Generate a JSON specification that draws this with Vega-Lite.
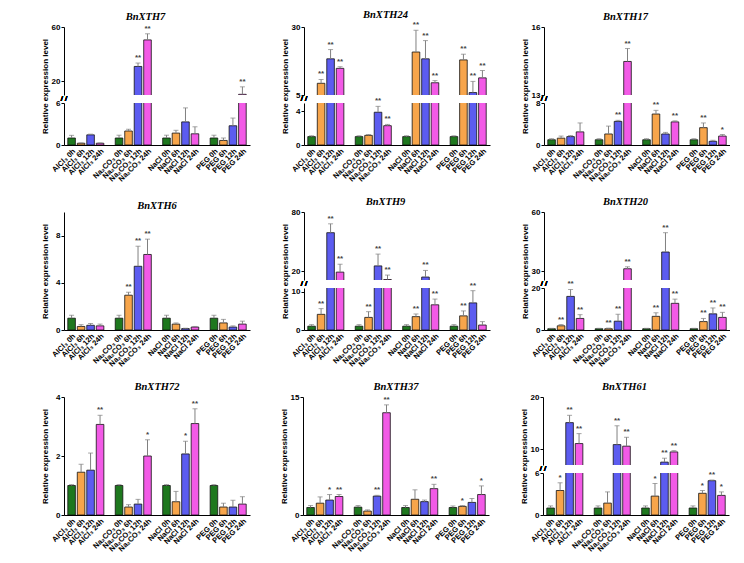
{
"$schema": "https://vega.github.io/schema/vega-lite/v6.json",
"padding": {"left": 40, "top": 9, "right": 0, "bottom": 0},
"background": "white",
"data": {"values": [
{"gene":"BnXTH7","label":"AlCl₃ 0h","time":"0h","value":1.0,"upper":1.38,"sig":""},
{"gene":"BnXTH7","label":"AlCl₃ 6h","time":"6h","value":0.25,"upper":0.3,"sig":""},
{"gene":"BnXTH7","label":"AlCl₃ 12h","time":"12h","value":1.45,"upper":1.55,"sig":""},
{"gene":"BnXTH7","label":"AlCl₃ 24h","time":"24h","value":0.25,"upper":0.3,"sig":""},
{"gene":"BnXTH7","label":"Na₂CO₃ 0h","time":"0h","value":1.0,"upper":1.4,"sig":""},
{"gene":"BnXTH7","label":"Na₂CO₃ 6h","time":"6h","value":2.0,"upper":2.25,"sig":""},
{"gene":"BnXTH7","label":"Na₂CO₃ 12h","time":"12h","value":31,"upper":33.5,"sig":"**"},
{"gene":"BnXTH7","label":"Na₂CO₃ 24h","time":"24h","value":50.5,"upper":55,"sig":"**"},
{"gene":"BnXTH7","label":"NaCl 0h","time":"0h","value":1.0,"upper":1.4,"sig":""},
{"gene":"BnXTH7","label":"NaCl 6h","time":"6h","value":1.7,"upper":2.1,"sig":""},
{"gene":"BnXTH7","label":"NaCl 12h","time":"12h","value":3.3,"upper":5.3,"sig":""},
{"gene":"BnXTH7","label":"NaCl 24h","time":"24h","value":1.6,"upper":2.6,"sig":""},
{"gene":"BnXTH7","label":"PEG 0h","time":"0h","value":1.0,"upper":1.4,"sig":""},
{"gene":"BnXTH7","label":"PEG 6h","time":"6h","value":0.65,"upper":1.0,"sig":""},
{"gene":"BnXTH7","label":"PEG 12h","time":"12h","value":2.75,"upper":3.85,"sig":""},
{"gene":"BnXTH7","label":"PEG 24h","time":"24h","value":10.5,"upper":16,"sig":"**"},

{"gene":"BnXTH24","label":"AlCl₃ 0h","time":"0h","value":1.0,"upper":1.1,"sig":""},
{"gene":"BnXTH24","label":"AlCl₃ 6h","time":"6h","value":9.3,"upper":10.7,"sig":"**"},
{"gene":"BnXTH24","label":"AlCl₃ 12h","time":"12h","value":18.3,"upper":21.7,"sig":"**"},
{"gene":"BnXTH24","label":"AlCl₃ 24h","time":"24h","value":14.8,"upper":15.4,"sig":"**"},
{"gene":"BnXTH24","label":"Na₂CO₃ 0h","time":"0h","value":1.0,"upper":1.1,"sig":""},
{"gene":"BnXTH24","label":"Na₂CO₃ 6h","time":"6h","value":1.15,"upper":1.25,"sig":""},
{"gene":"BnXTH24","label":"Na₂CO₃ 12h","time":"12h","value":3.9,"upper":4.6,"sig":"**"},
{"gene":"BnXTH24","label":"Na₂CO₃ 24h","time":"24h","value":2.3,"upper":2.45,"sig":"**"},
{"gene":"BnXTH24","label":"NaCl 0h","time":"0h","value":1.0,"upper":1.1,"sig":""},
{"gene":"BnXTH24","label":"NaCl 6h","time":"6h","value":20.8,"upper":28.8,"sig":"**"},
{"gene":"BnXTH24","label":"NaCl 12h","time":"12h","value":18.3,"upper":25,"sig":"**"},
{"gene":"BnXTH24","label":"NaCl 24h","time":"24h","value":9.5,"upper":10.3,"sig":"**"},
{"gene":"BnXTH24","label":"PEG 0h","time":"0h","value":1.0,"upper":1.1,"sig":""},
{"gene":"BnXTH24","label":"PEG 6h","time":"6h","value":17.9,"upper":20,"sig":"**"},
{"gene":"BnXTH24","label":"PEG 12h","time":"12h","value":5.9,"upper":10,"sig":"**"},
{"gene":"BnXTH24","label":"PEG 24h","time":"24h","value":11.3,"upper":14,"sig":"**"},

{"gene":"BnXTH17","label":"AlCl₃ 0h","time":"0h","value":1.0,"upper":1.2,"sig":""},
{"gene":"BnXTH17","label":"AlCl₃ 6h","time":"6h","value":1.3,"upper":1.7,"sig":""},
{"gene":"BnXTH17","label":"AlCl₃ 12h","time":"12h","value":1.6,"upper":1.8,"sig":""},
{"gene":"BnXTH17","label":"AlCl₃ 24h","time":"24h","value":2.5,"upper":4.2,"sig":""},
{"gene":"BnXTH17","label":"Na₂CO₃ 0h","time":"0h","value":1.0,"upper":1.2,"sig":""},
{"gene":"BnXTH17","label":"Na₂CO₃ 6h","time":"6h","value":2.1,"upper":3.6,"sig":""},
{"gene":"BnXTH17","label":"Na₂CO₃ 12h","time":"12h","value":4.5,"upper":4.7,"sig":"**"},
{"gene":"BnXTH17","label":"Na₂CO₃ 24h","time":"24h","value":14.48,"upper":15.05,"sig":"**"},
{"gene":"BnXTH17","label":"NaCl 0h","time":"0h","value":1.0,"upper":1.2,"sig":""},
{"gene":"BnXTH17","label":"NaCl 6h","time":"6h","value":5.9,"upper":6.6,"sig":"**"},
{"gene":"BnXTH17","label":"NaCl 12h","time":"12h","value":2.1,"upper":2.4,"sig":""},
{"gene":"BnXTH17","label":"NaCl 24h","time":"24h","value":4.4,"upper":4.6,"sig":"**"},
{"gene":"BnXTH17","label":"PEG 0h","time":"0h","value":1.0,"upper":1.2,"sig":""},
{"gene":"BnXTH17","label":"PEG 6h","time":"6h","value":3.3,"upper":4.2,"sig":"**"},
{"gene":"BnXTH17","label":"PEG 12h","time":"12h","value":0.7,"upper":0.9,"sig":""},
{"gene":"BnXTH17","label":"PEG 24h","time":"24h","value":1.7,"upper":2.0,"sig":"*"},

{"gene":"BnXTH6","label":"AlCl₃ 0h","time":"0h","value":1.0,"upper":1.25,"sig":""},
{"gene":"BnXTH6","label":"AlCl₃ 6h","time":"6h","value":0.3,"upper":0.45,"sig":""},
{"gene":"BnXTH6","label":"AlCl₃ 12h","time":"12h","value":0.4,"upper":0.55,"sig":""},
{"gene":"BnXTH6","label":"AlCl₃ 24h","time":"24h","value":0.35,"upper":0.5,"sig":""},
{"gene":"BnXTH6","label":"Na₂CO₃ 0h","time":"0h","value":1.0,"upper":1.25,"sig":""},
{"gene":"BnXTH6","label":"Na₂CO₃ 6h","time":"6h","value":2.95,"upper":3.2,"sig":"**"},
{"gene":"BnXTH6","label":"Na₂CO₃ 12h","time":"12h","value":5.4,"upper":7.1,"sig":"**"},
{"gene":"BnXTH6","label":"Na₂CO₃ 24h","time":"24h","value":6.4,"upper":7.7,"sig":"**"},
{"gene":"BnXTH6","label":"NaCl 0h","time":"0h","value":1.0,"upper":1.25,"sig":""},
{"gene":"BnXTH6","label":"NaCl 6h","time":"6h","value":0.5,"upper":0.6,"sig":""},
{"gene":"BnXTH6","label":"NaCl 12h","time":"12h","value":0.12,"upper":0.15,"sig":""},
{"gene":"BnXTH6","label":"NaCl 24h","time":"24h","value":0.25,"upper":0.3,"sig":""},
{"gene":"BnXTH6","label":"PEG 0h","time":"0h","value":1.0,"upper":1.25,"sig":""},
{"gene":"BnXTH6","label":"PEG 6h","time":"6h","value":0.6,"upper":0.9,"sig":""},
{"gene":"BnXTH6","label":"PEG 12h","time":"12h","value":0.25,"upper":0.35,"sig":""},
{"gene":"BnXTH6","label":"PEG 24h","time":"24h","value":0.5,"upper":0.75,"sig":""},

{"gene":"BnXTH9","label":"AlCl₃ 0h","time":"0h","value":1.0,"upper":1.4,"sig":""},
{"gene":"BnXTH9","label":"AlCl₃ 6h","time":"6h","value":4.1,"upper":5.6,"sig":"**"},
{"gene":"BnXTH9","label":"AlCl₃ 12h","time":"12h","value":59,"upper":68,"sig":"**"},
{"gene":"BnXTH9","label":"AlCl₃ 24h","time":"24h","value":19,"upper":27,"sig":"**"},
{"gene":"BnXTH9","label":"Na₂CO₃ 0h","time":"0h","value":1.0,"upper":1.4,"sig":""},
{"gene":"BnXTH9","label":"Na₂CO₃ 6h","time":"6h","value":3.3,"upper":4.8,"sig":"**"},
{"gene":"BnXTH9","label":"Na₂CO₃ 12h","time":"12h","value":25.3,"upper":37.3,"sig":"**"},
{"gene":"BnXTH9","label":"Na₂CO₃ 24h","time":"24h","value":11.5,"upper":16,"sig":"**"},
{"gene":"BnXTH9","label":"NaCl 0h","time":"0h","value":1.0,"upper":1.4,"sig":""},
{"gene":"BnXTH9","label":"NaCl 6h","time":"6h","value":3.5,"upper":4.2,"sig":"**"},
{"gene":"BnXTH9","label":"NaCl 12h","time":"12h","value":14,"upper":20.7,"sig":"**"},
{"gene":"BnXTH9","label":"NaCl 24h","time":"24h","value":6.6,"upper":8.1,"sig":"**"},
{"gene":"BnXTH9","label":"PEG 0h","time":"0h","value":1.0,"upper":1.4,"sig":""},
{"gene":"BnXTH9","label":"PEG 6h","time":"6h","value":3.7,"upper":5.0,"sig":"**"},
{"gene":"BnXTH9","label":"PEG 12h","time":"12h","value":7.1,"upper":10.3,"sig":"**"},
{"gene":"BnXTH9","label":"PEG 24h","time":"24h","value":1.3,"upper":2.2,"sig":""},

{"gene":"BnXTH20","label":"AlCl₃ 0h","time":"0h","value":0.6,"upper":0.8,"sig":""},
{"gene":"BnXTH20","label":"AlCl₃ 6h","time":"6h","value":2.0,"upper":2.6,"sig":"**"},
{"gene":"BnXTH20","label":"AlCl₃ 12h","time":"12h","value":16,"upper":19.3,"sig":"**"},
{"gene":"BnXTH20","label":"AlCl₃ 24h","time":"24h","value":5.5,"upper":7.3,"sig":"**"},
{"gene":"BnXTH20","label":"Na₂CO₃ 0h","time":"0h","value":0.6,"upper":0.8,"sig":""},
{"gene":"BnXTH20","label":"Na₂CO₃ 6h","time":"6h","value":0.6,"upper":0.9,"sig":"**"},
{"gene":"BnXTH20","label":"Na₂CO₃ 12h","time":"12h","value":4.2,"upper":7.5,"sig":"**"},
{"gene":"BnXTH20","label":"Na₂CO₃ 24h","time":"24h","value":31.2,"upper":32.2,"sig":"**"},
{"gene":"BnXTH20","label":"NaCl 0h","time":"0h","value":0.6,"upper":0.8,"sig":""},
{"gene":"BnXTH20","label":"NaCl 6h","time":"6h","value":6.5,"upper":8.2,"sig":"**"},
{"gene":"BnXTH20","label":"NaCl 12h","time":"12h","value":39.7,"upper":49.5,"sig":"**"},
{"gene":"BnXTH20","label":"NaCl 24h","time":"24h","value":12.7,"upper":14.7,"sig":"**"},
{"gene":"BnXTH20","label":"PEG 0h","time":"0h","value":0.6,"upper":0.8,"sig":""},
{"gene":"BnXTH20","label":"PEG 6h","time":"6h","value":4.0,"upper":5.5,"sig":"**"},
{"gene":"BnXTH20","label":"PEG 12h","time":"12h","value":7.7,"upper":10.5,"sig":"**"},
{"gene":"BnXTH20","label":"PEG 24h","time":"24h","value":6.0,"upper":8.4,"sig":"**"},

{"gene":"BnXTH72","label":"AlCl₃ 0h","time":"0h","value":1.0,"upper":1.03,"sig":""},
{"gene":"BnXTH72","label":"AlCl₃ 6h","time":"6h","value":1.45,"upper":1.72,"sig":""},
{"gene":"BnXTH72","label":"AlCl₃ 12h","time":"12h","value":1.52,"upper":2.1,"sig":""},
{"gene":"BnXTH72","label":"AlCl₃ 24h","time":"24h","value":3.07,"upper":3.38,"sig":"**"},
{"gene":"BnXTH72","label":"Na₂CO₃ 0h","time":"0h","value":1.0,"upper":1.03,"sig":""},
{"gene":"BnXTH72","label":"Na₂CO₃ 6h","time":"6h","value":0.27,"upper":0.35,"sig":""},
{"gene":"BnXTH72","label":"Na₂CO₃ 12h","time":"12h","value":0.37,"upper":0.53,"sig":""},
{"gene":"BnXTH72","label":"Na₂CO₃ 24h","time":"24h","value":2.0,"upper":2.55,"sig":"*"},
{"gene":"BnXTH72","label":"NaCl 0h","time":"0h","value":1.0,"upper":1.03,"sig":""},
{"gene":"BnXTH72","label":"NaCl 6h","time":"6h","value":0.45,"upper":0.8,"sig":""},
{"gene":"BnXTH72","label":"NaCl 12h","time":"12h","value":2.07,"upper":2.5,"sig":"*"},
{"gene":"BnXTH72","label":"NaCl 24h","time":"24h","value":3.1,"upper":3.6,"sig":"**"},
{"gene":"BnXTH72","label":"PEG 0h","time":"0h","value":1.0,"upper":1.03,"sig":""},
{"gene":"BnXTH72","label":"PEG 6h","time":"6h","value":0.27,"upper":0.4,"sig":""},
{"gene":"BnXTH72","label":"PEG 12h","time":"12h","value":0.27,"upper":0.5,"sig":""},
{"gene":"BnXTH72","label":"PEG 24h","time":"24h","value":0.37,"upper":0.62,"sig":""},

{"gene":"BnXTH37","label":"AlCl₃ 0h","time":"0h","value":0.95,"upper":1.2,"sig":""},
{"gene":"BnXTH37","label":"AlCl₃ 6h","time":"6h","value":1.5,"upper":2.3,"sig":""},
{"gene":"BnXTH37","label":"AlCl₃ 12h","time":"12h","value":1.9,"upper":2.6,"sig":"*"},
{"gene":"BnXTH37","label":"AlCl₃ 24h","time":"24h","value":2.35,"upper":2.6,"sig":"**"},
{"gene":"BnXTH37","label":"Na₂CO₃ 0h","time":"0h","value":1.0,"upper":1.2,"sig":""},
{"gene":"BnXTH37","label":"Na₂CO₃ 6h","time":"6h","value":0.5,"upper":0.65,"sig":""},
{"gene":"BnXTH37","label":"Na₂CO₃ 12h","time":"12h","value":2.4,"upper":2.5,"sig":"**"},
{"gene":"BnXTH37","label":"Na₂CO₃ 24h","time":"24h","value":13.0,"upper":14.0,"sig":"**"},
{"gene":"BnXTH37","label":"NaCl 0h","time":"0h","value":0.95,"upper":1.2,"sig":""},
{"gene":"BnXTH37","label":"NaCl 6h","time":"6h","value":2.0,"upper":3.2,"sig":""},
{"gene":"BnXTH37","label":"NaCl 12h","time":"12h","value":1.7,"upper":1.9,"sig":""},
{"gene":"BnXTH37","label":"NaCl 24h","time":"24h","value":3.35,"upper":3.9,"sig":"**"},
{"gene":"BnXTH37","label":"PEG 0h","time":"0h","value":0.95,"upper":1.15,"sig":""},
{"gene":"BnXTH37","label":"PEG 6h","time":"6h","value":1.1,"upper":1.2,"sig":"*"},
{"gene":"BnXTH37","label":"PEG 12h","time":"12h","value":1.6,"upper":2.1,"sig":""},
{"gene":"BnXTH37","label":"PEG 24h","time":"24h","value":2.6,"upper":3.7,"sig":"*"},

{"gene":"BnXTH61","label":"AlCl₃ 0h","time":"0h","value":1.0,"upper":1.3,"sig":""},
{"gene":"BnXTH61","label":"AlCl₃ 6h","time":"6h","value":3.5,"upper":4.6,"sig":"*"},
{"gene":"BnXTH61","label":"AlCl₃ 12h","time":"12h","value":15.1,"upper":16.5,"sig":"**"},
{"gene":"BnXTH61","label":"AlCl₃ 24h","time":"24h","value":11.1,"upper":13.0,"sig":"**"},
{"gene":"BnXTH61","label":"Na₂CO₃ 0h","time":"0h","value":1.0,"upper":1.3,"sig":""},
{"gene":"BnXTH61","label":"Na₂CO₃ 6h","time":"6h","value":1.7,"upper":3.3,"sig":""},
{"gene":"BnXTH61","label":"Na₂CO₃ 12h","time":"12h","value":10.9,"upper":14.5,"sig":"**"},
{"gene":"BnXTH61","label":"Na₂CO₃ 24h","time":"24h","value":10.6,"upper":12.3,"sig":"**"},
{"gene":"BnXTH61","label":"NaCl 0h","time":"0h","value":1.0,"upper":1.3,"sig":""},
{"gene":"BnXTH61","label":"NaCl 6h","time":"6h","value":2.7,"upper":4.5,"sig":"*"},
{"gene":"BnXTH61","label":"NaCl 12h","time":"12h","value":7.55,"upper":8.3,"sig":"**"},
{"gene":"BnXTH61","label":"NaCl 24h","time":"24h","value":9.5,"upper":9.75,"sig":"**"},
{"gene":"BnXTH61","label":"PEG 0h","time":"0h","value":1.0,"upper":1.3,"sig":""},
{"gene":"BnXTH61","label":"PEG 6h","time":"6h","value":3.1,"upper":3.5,"sig":"*"},
{"gene":"BnXTH61","label":"PEG 12h","time":"12h","value":4.9,"upper":5.0,"sig":"**"},
{"gene":"BnXTH61","label":"PEG 24h","time":"24h","value":2.8,"upper":3.3,"sig":"*"}
]},
"config": {
  "view": {"stroke": null},
  "axis": {"labelFont": "Liberation Sans", "titleFont": "Liberation Sans", "labelFontWeight": "bold", "domainColor": "#000", "tickColor": "#000", "labelColor": "#000", "titleColor": "#000", "grid": false, "domainWidth": 1},
  "axisY": {"labelFontSize": 8, "tickSize": 3, "labelPadding": 1, "minExtent": 13, "maxExtent": 13, "titleFontSize": 8, "titleFontWeight": "bold", "titlePadding": 2, "labelOverlap": false, "labelBound": false, "labelFlush": false},
  "axisX": {"labelAngle": -45, "labelFontSize": 7.5, "ticks": false, "labelPadding": 2},
  "title": {"font": "Liberation Serif", "fontStyle": "italic", "fontWeight": "bold", "fontSize": 10.5, "anchor": "middle", "offset": 1, "color": "#000"},
  "bar": {"stroke": "#111", "strokeWidth": 0.8}
},
"spacing": 13,
"vconcat": [
 {"spacing": 30, "hconcat": [
  {"title": "BnXTH7", "transform": [{"filter": "datum.gene == 'BnXTH7'"}], "spacing": 8, "bounds": "flush", "align": "none", "vconcat": [
   {"width": 186, "height": 68,
    "encoding": {"x": {"field": "label", "type": "nominal", "title": null, "scale": {"domain": ["AlCl₃ 0h","AlCl₃ 6h","AlCl₃ 12h","AlCl₃ 24h"," ","Na₂CO₃ 0h","Na₂CO₃ 6h","Na₂CO₃ 12h","Na₂CO₃ 24h","  ","NaCl 0h","NaCl 6h","NaCl 12h","NaCl 24h","   ","PEG 0h","PEG 6h","PEG 12h","PEG 24h"], "paddingInner": 0.2, "paddingOuter": 0.4}, "axis": null}},
    "layer": [
     {"mark": {"type": "bar", "clip": true}, "encoding": {"y": {"field": "value", "type": "quantitative", "scale": {"domain": [10, 60], "nice": false, "zero": false}, "axis": {"values": [20, 40, 60], "title": null, "labelOverlap": false}}, "y2": {"datum": 0}, "color": {"field": "time", "type": "nominal", "scale": {"domain": ["0h","6h","12h","24h"], "range": ["#1e781e","#f7a54b","#5c5cf0","#f25ae6"]}, "legend": null}}},
     {"mark": {"type": "rule", "clip": true, "color": "#808080"}, "encoding": {"y": {"field": "value", "type": "quantitative"}, "y2": {"field": "upper"}}},
     {"mark": {"type": "tick", "clip": true, "color": "#808080", "thickness": 1, "size": 5, "orient": "horizontal"}, "encoding": {"y": {"field": "upper", "type": "quantitative"}}},
     {"transform": [{"filter": "datum.sig != '' && datum.upper >= 10"}], "mark": {"type": "text", "dy": -1, "baseline": "bottom", "fontSize": 8, "fontWeight": "bold", "color": "#444", "font": "Liberation Sans"}, "encoding": {"y": {"field": "upper", "type": "quantitative"}, "text": {"field": "sig"}}}
    ]},
   {"width": 186, "height": 42,
    "encoding": {"x": {"field": "label", "type": "nominal", "title": null, "scale": {"domain": ["AlCl₃ 0h","AlCl₃ 6h","AlCl₃ 12h","AlCl₃ 24h"," ","Na₂CO₃ 0h","Na₂CO₃ 6h","Na₂CO₃ 12h","Na₂CO₃ 24h","  ","NaCl 0h","NaCl 6h","NaCl 12h","NaCl 24h","   ","PEG 0h","PEG 6h","PEG 12h","PEG 24h"], "paddingInner": 0.2, "paddingOuter": 0.4}}},
    "layer": [
     {"mark": {"type": "bar", "clip": true}, "encoding": {"y": {"field": "value", "type": "quantitative", "scale": {"domain": [0, 6], "nice": false, "zero": false}, "axis": {"values": [0, 2, 4, 6], "title": "Relative expression level", "titleY": -17, "labelOverlap": false}}, "y2": {"datum": 0}, "color": {"field": "time", "type": "nominal", "scale": {"domain": ["0h","6h","12h","24h"], "range": ["#1e781e","#f7a54b","#5c5cf0","#f25ae6"]}, "legend": null}}},
     {"mark": {"type": "rule", "clip": true, "color": "#808080"}, "encoding": {"y": {"field": "value", "type": "quantitative"}, "y2": {"field": "upper"}}},
     {"mark": {"type": "tick", "clip": true, "color": "#808080", "thickness": 1, "size": 5, "orient": "horizontal"}, "encoding": {"y": {"field": "upper", "type": "quantitative"}}},
     {"transform": [{"filter": "datum.sig != '' && datum.upper <= 6"}], "mark": {"type": "text", "dy": -1, "baseline": "bottom", "fontSize": 8, "fontWeight": "bold", "color": "#444", "font": "Liberation Sans"}, "encoding": {"y": {"field": "upper", "type": "quantitative"}, "text": {"field": "sig"}}},
     {"mark": {"type": "text", "text": "/ /", "dx": -7.6, "dy": -4, "fontSize": 8, "color": "#000", "baseline": "middle", "align": "center", "font": "Liberation Sans"}, "encoding": {"x": {"datum": "AlCl₃ 0h"}, "y": {"datum": 6}}}
    ]}
  ]},
  {"title": "BnXTH24", "transform": [{"filter": "datum.gene == 'BnXTH24'"}], "spacing": 8, "bounds": "flush", "align": "none", "vconcat": [
   {"width": 186, "height": 68,
    "encoding": {"x": {"field": "label", "type": "nominal", "title": null, "scale": {"domain": ["AlCl₃ 0h","AlCl₃ 6h","AlCl₃ 12h","AlCl₃ 24h"," ","Na₂CO₃ 0h","Na₂CO₃ 6h","Na₂CO₃ 12h","Na₂CO₃ 24h","  ","NaCl 0h","NaCl 6h","NaCl 12h","NaCl 24h","   ","PEG 0h","PEG 6h","PEG 12h","PEG 24h"], "paddingInner": 0.2, "paddingOuter": 0.4}, "axis": null}},
    "layer": [
     {"mark": {"type": "bar", "clip": true}, "encoding": {"y": {"field": "value", "type": "quantitative", "scale": {"domain": [5, 30], "nice": false, "zero": false}, "axis": {"values": [5, 10, 15, 20, 25, 30], "title": null, "labelOverlap": false}}, "y2": {"datum": 0}, "color": {"field": "time", "type": "nominal", "scale": {"domain": ["0h","6h","12h","24h"], "range": ["#1e781e","#f7a54b","#5c5cf0","#f25ae6"]}, "legend": null}}},
     {"mark": {"type": "rule", "clip": true, "color": "#808080"}, "encoding": {"y": {"field": "value", "type": "quantitative"}, "y2": {"field": "upper"}}},
     {"mark": {"type": "tick", "clip": true, "color": "#808080", "thickness": 1, "size": 5, "orient": "horizontal"}, "encoding": {"y": {"field": "upper", "type": "quantitative"}}},
     {"transform": [{"filter": "datum.sig != '' && datum.upper >= 5"}], "mark": {"type": "text", "dy": -1, "baseline": "bottom", "fontSize": 8, "fontWeight": "bold", "color": "#444", "font": "Liberation Sans"}, "encoding": {"y": {"field": "upper", "type": "quantitative"}, "text": {"field": "sig"}}}
    ]},
   {"width": 186, "height": 42,
    "encoding": {"x": {"field": "label", "type": "nominal", "title": null, "scale": {"domain": ["AlCl₃ 0h","AlCl₃ 6h","AlCl₃ 12h","AlCl₃ 24h"," ","Na₂CO₃ 0h","Na₂CO₃ 6h","Na₂CO₃ 12h","Na₂CO₃ 24h","  ","NaCl 0h","NaCl 6h","NaCl 12h","NaCl 24h","   ","PEG 0h","PEG 6h","PEG 12h","PEG 24h"], "paddingInner": 0.2, "paddingOuter": 0.4}}},
    "layer": [
     {"mark": {"type": "bar", "clip": true}, "encoding": {"y": {"field": "value", "type": "quantitative", "scale": {"domain": [0, 5], "nice": false, "zero": false}, "axis": {"values": [0, 2, 4], "title": "Relative expression level", "titleY": -17, "labelOverlap": false}}, "y2": {"datum": 0}, "color": {"field": "time", "type": "nominal", "scale": {"domain": ["0h","6h","12h","24h"], "range": ["#1e781e","#f7a54b","#5c5cf0","#f25ae6"]}, "legend": null}}},
     {"mark": {"type": "rule", "clip": true, "color": "#808080"}, "encoding": {"y": {"field": "value", "type": "quantitative"}, "y2": {"field": "upper"}}},
     {"mark": {"type": "tick", "clip": true, "color": "#808080", "thickness": 1, "size": 5, "orient": "horizontal"}, "encoding": {"y": {"field": "upper", "type": "quantitative"}}},
     {"transform": [{"filter": "datum.sig != '' && datum.upper <= 5"}], "mark": {"type": "text", "dy": -1, "baseline": "bottom", "fontSize": 8, "fontWeight": "bold", "color": "#444", "font": "Liberation Sans"}, "encoding": {"y": {"field": "upper", "type": "quantitative"}, "text": {"field": "sig"}}},
     {"mark": {"type": "text", "text": "/ /", "dx": -7.6, "dy": -4, "fontSize": 8, "color": "#000", "baseline": "middle", "align": "center", "font": "Liberation Sans"}, "encoding": {"x": {"datum": "AlCl₃ 0h"}, "y": {"datum": 5}}}
    ]}
  ]},
  {"title": "BnXTH17", "transform": [{"filter": "datum.gene == 'BnXTH17'"}], "spacing": 8, "bounds": "flush", "align": "none", "vconcat": [
   {"width": 186, "height": 68,
    "encoding": {"x": {"field": "label", "type": "nominal", "title": null, "scale": {"domain": ["AlCl₃ 0h","AlCl₃ 6h","AlCl₃ 12h","AlCl₃ 24h"," ","Na₂CO₃ 0h","Na₂CO₃ 6h","Na₂CO₃ 12h","Na₂CO₃ 24h","  ","NaCl 0h","NaCl 6h","NaCl 12h","NaCl 24h","   ","PEG 0h","PEG 6h","PEG 12h","PEG 24h"], "paddingInner": 0.2, "paddingOuter": 0.4}, "axis": null}},
    "layer": [
     {"mark": {"type": "bar", "clip": true}, "encoding": {"y": {"field": "value", "type": "quantitative", "scale": {"domain": [13, 16], "nice": false, "zero": false}, "axis": {"values": [13, 14, 15, 16], "title": null, "labelOverlap": false}}, "y2": {"datum": 0}, "color": {"field": "time", "type": "nominal", "scale": {"domain": ["0h","6h","12h","24h"], "range": ["#1e781e","#f7a54b","#5c5cf0","#f25ae6"]}, "legend": null}}},
     {"mark": {"type": "rule", "clip": true, "color": "#808080"}, "encoding": {"y": {"field": "value", "type": "quantitative"}, "y2": {"field": "upper"}}},
     {"mark": {"type": "tick", "clip": true, "color": "#808080", "thickness": 1, "size": 5, "orient": "horizontal"}, "encoding": {"y": {"field": "upper", "type": "quantitative"}}},
     {"transform": [{"filter": "datum.sig != '' && datum.upper >= 13"}], "mark": {"type": "text", "dy": -1, "baseline": "bottom", "fontSize": 8, "fontWeight": "bold", "color": "#444", "font": "Liberation Sans"}, "encoding": {"y": {"field": "upper", "type": "quantitative"}, "text": {"field": "sig"}}}
    ]},
   {"width": 186, "height": 42,
    "encoding": {"x": {"field": "label", "type": "nominal", "title": null, "scale": {"domain": ["AlCl₃ 0h","AlCl₃ 6h","AlCl₃ 12h","AlCl₃ 24h"," ","Na₂CO₃ 0h","Na₂CO₃ 6h","Na₂CO₃ 12h","Na₂CO₃ 24h","  ","NaCl 0h","NaCl 6h","NaCl 12h","NaCl 24h","   ","PEG 0h","PEG 6h","PEG 12h","PEG 24h"], "paddingInner": 0.2, "paddingOuter": 0.4}}},
    "layer": [
     {"mark": {"type": "bar", "clip": true}, "encoding": {"y": {"field": "value", "type": "quantitative", "scale": {"domain": [0, 8], "nice": false, "zero": false}, "axis": {"values": [0, 2, 4, 6, 8], "title": "Relative expression level", "titleY": -17, "labelOverlap": false}}, "y2": {"datum": 0}, "color": {"field": "time", "type": "nominal", "scale": {"domain": ["0h","6h","12h","24h"], "range": ["#1e781e","#f7a54b","#5c5cf0","#f25ae6"]}, "legend": null}}},
     {"mark": {"type": "rule", "clip": true, "color": "#808080"}, "encoding": {"y": {"field": "value", "type": "quantitative"}, "y2": {"field": "upper"}}},
     {"mark": {"type": "tick", "clip": true, "color": "#808080", "thickness": 1, "size": 5, "orient": "horizontal"}, "encoding": {"y": {"field": "upper", "type": "quantitative"}}},
     {"transform": [{"filter": "datum.sig != '' && datum.upper <= 8"}], "mark": {"type": "text", "dy": -1, "baseline": "bottom", "fontSize": 8, "fontWeight": "bold", "color": "#444", "font": "Liberation Sans"}, "encoding": {"y": {"field": "upper", "type": "quantitative"}, "text": {"field": "sig"}}},
     {"mark": {"type": "text", "text": "/ /", "dx": -7.6, "dy": -4, "fontSize": 8, "color": "#000", "baseline": "middle", "align": "center", "font": "Liberation Sans"}, "encoding": {"x": {"datum": "AlCl₃ 0h"}, "y": {"datum": 8}}}
    ]}
  ]}
 ]},
 {"spacing": 30, "hconcat": [
  {"title": "BnXTH6", "transform": [{"filter": "datum.gene == 'BnXTH6'"}], "width": 186, "height": 118,
    "encoding": {"x": {"field": "label", "type": "nominal", "title": null, "scale": {"domain": ["AlCl₃ 0h","AlCl₃ 6h","AlCl₃ 12h","AlCl₃ 24h"," ","Na₂CO₃ 0h","Na₂CO₃ 6h","Na₂CO₃ 12h","Na₂CO₃ 24h","  ","NaCl 0h","NaCl 6h","NaCl 12h","NaCl 24h","   ","PEG 0h","PEG 6h","PEG 12h","PEG 24h"], "paddingInner": 0.2, "paddingOuter": 0.4}}},
    "layer": [
     {"mark": {"type": "bar", "clip": true}, "encoding": {"y": {"field": "value", "type": "quantitative", "scale": {"domain": [0, 10], "nice": false, "zero": false}, "axis": {"values": [0, 2, 4, 6, 8, 10], "title": "Relative expression level", "labelOverlap": false}}, "y2": {"datum": 0}, "color": {"field": "time", "type": "nominal", "scale": {"domain": ["0h","6h","12h","24h"], "range": ["#1e781e","#f7a54b","#5c5cf0","#f25ae6"]}, "legend": null}}},
     {"mark": {"type": "rule", "clip": true, "color": "#808080"}, "encoding": {"y": {"field": "value", "type": "quantitative"}, "y2": {"field": "upper"}}},
     {"mark": {"type": "tick", "clip": true, "color": "#808080", "thickness": 1, "size": 5, "orient": "horizontal"}, "encoding": {"y": {"field": "upper", "type": "quantitative"}}},
     {"transform": [{"filter": "datum.sig != ''"}], "mark": {"type": "text", "dy": -1, "baseline": "bottom", "fontSize": 8, "fontWeight": "bold", "color": "#444", "font": "Liberation Sans"}, "encoding": {"y": {"field": "upper", "type": "quantitative"}, "text": {"field": "sig"}}}
    ]},
  {"title": "BnXTH9", "transform": [{"filter": "datum.gene == 'BnXTH9'"}], "spacing": 8, "bounds": "flush", "align": "none", "vconcat": [
   {"width": 186, "height": 68,
    "encoding": {"x": {"field": "label", "type": "nominal", "title": null, "scale": {"domain": ["AlCl₃ 0h","AlCl₃ 6h","AlCl₃ 12h","AlCl₃ 24h"," ","Na₂CO₃ 0h","Na₂CO₃ 6h","Na₂CO₃ 12h","Na₂CO₃ 24h","  ","NaCl 0h","NaCl 6h","NaCl 12h","NaCl 24h","   ","PEG 0h","PEG 6h","PEG 12h","PEG 24h"], "paddingInner": 0.2, "paddingOuter": 0.4}, "axis": null}},
    "layer": [
     {"mark": {"type": "bar", "clip": true}, "encoding": {"y": {"field": "value", "type": "quantitative", "scale": {"domain": [11, 80], "nice": false, "zero": false}, "axis": {"values": [20, 40, 60, 80], "title": null, "labelOverlap": false}}, "y2": {"datum": 0}, "color": {"field": "time", "type": "nominal", "scale": {"domain": ["0h","6h","12h","24h"], "range": ["#1e781e","#f7a54b","#5c5cf0","#f25ae6"]}, "legend": null}}},
     {"mark": {"type": "rule", "clip": true, "color": "#808080"}, "encoding": {"y": {"field": "value", "type": "quantitative"}, "y2": {"field": "upper"}}},
     {"mark": {"type": "tick", "clip": true, "color": "#808080", "thickness": 1, "size": 5, "orient": "horizontal"}, "encoding": {"y": {"field": "upper", "type": "quantitative"}}},
     {"transform": [{"filter": "datum.sig != '' && datum.upper >= 11"}], "mark": {"type": "text", "dy": -1, "baseline": "bottom", "fontSize": 8, "fontWeight": "bold", "color": "#444", "font": "Liberation Sans"}, "encoding": {"y": {"field": "upper", "type": "quantitative"}, "text": {"field": "sig"}}}
    ]},
   {"width": 186, "height": 42,
    "encoding": {"x": {"field": "label", "type": "nominal", "title": null, "scale": {"domain": ["AlCl₃ 0h","AlCl₃ 6h","AlCl₃ 12h","AlCl₃ 24h"," ","Na₂CO₃ 0h","Na₂CO₃ 6h","Na₂CO₃ 12h","Na₂CO₃ 24h","  ","NaCl 0h","NaCl 6h","NaCl 12h","NaCl 24h","   ","PEG 0h","PEG 6h","PEG 12h","PEG 24h"], "paddingInner": 0.2, "paddingOuter": 0.4}}},
    "layer": [
     {"mark": {"type": "bar", "clip": true}, "encoding": {"y": {"field": "value", "type": "quantitative", "scale": {"domain": [0, 11], "nice": false, "zero": false}, "axis": {"values": [0, 5, 10], "title": "Relative expression level", "titleY": -17, "labelOverlap": false}}, "y2": {"datum": 0}, "color": {"field": "time", "type": "nominal", "scale": {"domain": ["0h","6h","12h","24h"], "range": ["#1e781e","#f7a54b","#5c5cf0","#f25ae6"]}, "legend": null}}},
     {"mark": {"type": "rule", "clip": true, "color": "#808080"}, "encoding": {"y": {"field": "value", "type": "quantitative"}, "y2": {"field": "upper"}}},
     {"mark": {"type": "tick", "clip": true, "color": "#808080", "thickness": 1, "size": 5, "orient": "horizontal"}, "encoding": {"y": {"field": "upper", "type": "quantitative"}}},
     {"transform": [{"filter": "datum.sig != '' && datum.upper <= 11"}], "mark": {"type": "text", "dy": -1, "baseline": "bottom", "fontSize": 8, "fontWeight": "bold", "color": "#444", "font": "Liberation Sans"}, "encoding": {"y": {"field": "upper", "type": "quantitative"}, "text": {"field": "sig"}}},
     {"mark": {"type": "text", "text": "/ /", "dx": -7.6, "dy": -4, "fontSize": 8, "color": "#000", "baseline": "middle", "align": "center", "font": "Liberation Sans"}, "encoding": {"x": {"datum": "AlCl₃ 0h"}, "y": {"datum": 11}}}
    ]}
  ]},
  {"title": "BnXTH20", "transform": [{"filter": "datum.gene == 'BnXTH20'"}], "spacing": 8, "bounds": "flush", "align": "none", "vconcat": [
   {"width": 186, "height": 68,
    "encoding": {"x": {"field": "label", "type": "nominal", "title": null, "scale": {"domain": ["AlCl₃ 0h","AlCl₃ 6h","AlCl₃ 12h","AlCl₃ 24h"," ","Na₂CO₃ 0h","Na₂CO₃ 6h","Na₂CO₃ 12h","Na₂CO₃ 24h","  ","NaCl 0h","NaCl 6h","NaCl 12h","NaCl 24h","   ","PEG 0h","PEG 6h","PEG 12h","PEG 24h"], "paddingInner": 0.2, "paddingOuter": 0.4}, "axis": null}},
    "layer": [
     {"mark": {"type": "bar", "clip": true}, "encoding": {"y": {"field": "value", "type": "quantitative", "scale": {"domain": [25.5, 60], "nice": false, "zero": false}, "axis": {"values": [30, 40, 50, 60], "title": null, "labelOverlap": false}}, "y2": {"datum": 0}, "color": {"field": "time", "type": "nominal", "scale": {"domain": ["0h","6h","12h","24h"], "range": ["#1e781e","#f7a54b","#5c5cf0","#f25ae6"]}, "legend": null}}},
     {"mark": {"type": "rule", "clip": true, "color": "#808080"}, "encoding": {"y": {"field": "value", "type": "quantitative"}, "y2": {"field": "upper"}}},
     {"mark": {"type": "tick", "clip": true, "color": "#808080", "thickness": 1, "size": 5, "orient": "horizontal"}, "encoding": {"y": {"field": "upper", "type": "quantitative"}}},
     {"transform": [{"filter": "datum.sig != '' && datum.upper >= 25.5"}], "mark": {"type": "text", "dy": -1, "baseline": "bottom", "fontSize": 8, "fontWeight": "bold", "color": "#444", "font": "Liberation Sans"}, "encoding": {"y": {"field": "upper", "type": "quantitative"}, "text": {"field": "sig"}}}
    ]},
   {"width": 186, "height": 42,
    "encoding": {"x": {"field": "label", "type": "nominal", "title": null, "scale": {"domain": ["AlCl₃ 0h","AlCl₃ 6h","AlCl₃ 12h","AlCl₃ 24h"," ","Na₂CO₃ 0h","Na₂CO₃ 6h","Na₂CO₃ 12h","Na₂CO₃ 24h","  ","NaCl 0h","NaCl 6h","NaCl 12h","NaCl 24h","   ","PEG 0h","PEG 6h","PEG 12h","PEG 24h"], "paddingInner": 0.2, "paddingOuter": 0.4}}},
    "layer": [
     {"mark": {"type": "bar", "clip": true}, "encoding": {"y": {"field": "value", "type": "quantitative", "scale": {"domain": [0, 20], "nice": false, "zero": false}, "axis": {"values": [0, 5, 10, 15, 20], "title": "Relative expression level", "titleY": -17, "labelOverlap": false}}, "y2": {"datum": 0}, "color": {"field": "time", "type": "nominal", "scale": {"domain": ["0h","6h","12h","24h"], "range": ["#1e781e","#f7a54b","#5c5cf0","#f25ae6"]}, "legend": null}}},
     {"mark": {"type": "rule", "clip": true, "color": "#808080"}, "encoding": {"y": {"field": "value", "type": "quantitative"}, "y2": {"field": "upper"}}},
     {"mark": {"type": "tick", "clip": true, "color": "#808080", "thickness": 1, "size": 5, "orient": "horizontal"}, "encoding": {"y": {"field": "upper", "type": "quantitative"}}},
     {"transform": [{"filter": "datum.sig != '' && datum.upper <= 20"}], "mark": {"type": "text", "dy": -1, "baseline": "bottom", "fontSize": 8, "fontWeight": "bold", "color": "#444", "font": "Liberation Sans"}, "encoding": {"y": {"field": "upper", "type": "quantitative"}, "text": {"field": "sig"}}},
     {"mark": {"type": "text", "text": "/ /", "dx": -7.6, "dy": -4, "fontSize": 8, "color": "#000", "baseline": "middle", "align": "center", "font": "Liberation Sans"}, "encoding": {"x": {"datum": "AlCl₃ 0h"}, "y": {"datum": 20}}}
    ]}
  ]}
 ]},
 {"spacing": 30, "hconcat": [
  {"title": "BnXTH72", "transform": [{"filter": "datum.gene == 'BnXTH72'"}], "width": 186, "height": 118,
    "encoding": {"x": {"field": "label", "type": "nominal", "title": null, "scale": {"domain": ["AlCl₃ 0h","AlCl₃ 6h","AlCl₃ 12h","AlCl₃ 24h"," ","Na₂CO₃ 0h","Na₂CO₃ 6h","Na₂CO₃ 12h","Na₂CO₃ 24h","  ","NaCl 0h","NaCl 6h","NaCl 12h","NaCl 24h","   ","PEG 0h","PEG 6h","PEG 12h","PEG 24h"], "paddingInner": 0.2, "paddingOuter": 0.4}}},
    "layer": [
     {"mark": {"type": "bar", "clip": true}, "encoding": {"y": {"field": "value", "type": "quantitative", "scale": {"domain": [0, 4], "nice": false, "zero": false}, "axis": {"values": [0, 1, 2, 3, 4], "title": "Relative expression level", "labelOverlap": false}}, "y2": {"datum": 0}, "color": {"field": "time", "type": "nominal", "scale": {"domain": ["0h","6h","12h","24h"], "range": ["#1e781e","#f7a54b","#5c5cf0","#f25ae6"]}, "legend": null}}},
     {"mark": {"type": "rule", "clip": true, "color": "#808080"}, "encoding": {"y": {"field": "value", "type": "quantitative"}, "y2": {"field": "upper"}}},
     {"mark": {"type": "tick", "clip": true, "color": "#808080", "thickness": 1, "size": 5, "orient": "horizontal"}, "encoding": {"y": {"field": "upper", "type": "quantitative"}}},
     {"transform": [{"filter": "datum.sig != ''"}], "mark": {"type": "text", "dy": -1, "baseline": "bottom", "fontSize": 8, "fontWeight": "bold", "color": "#444", "font": "Liberation Sans"}, "encoding": {"y": {"field": "upper", "type": "quantitative"}, "text": {"field": "sig"}}}
    ]},
  {"title": "BnXTH37", "transform": [{"filter": "datum.gene == 'BnXTH37'"}], "width": 186, "height": 118,
    "encoding": {"x": {"field": "label", "type": "nominal", "title": null, "scale": {"domain": ["AlCl₃ 0h","AlCl₃ 6h","AlCl₃ 12h","AlCl₃ 24h"," ","Na₂CO₃ 0h","Na₂CO₃ 6h","Na₂CO₃ 12h","Na₂CO₃ 24h","  ","NaCl 0h","NaCl 6h","NaCl 12h","NaCl 24h","   ","PEG 0h","PEG 6h","PEG 12h","PEG 24h"], "paddingInner": 0.2, "paddingOuter": 0.4}}},
    "layer": [
     {"mark": {"type": "bar", "clip": true}, "encoding": {"y": {"field": "value", "type": "quantitative", "scale": {"domain": [0, 15], "nice": false, "zero": false}, "axis": {"values": [0, 5, 10, 15], "title": "Relative expression level", "labelOverlap": false}}, "y2": {"datum": 0}, "color": {"field": "time", "type": "nominal", "scale": {"domain": ["0h","6h","12h","24h"], "range": ["#1e781e","#f7a54b","#5c5cf0","#f25ae6"]}, "legend": null}}},
     {"mark": {"type": "rule", "clip": true, "color": "#808080"}, "encoding": {"y": {"field": "value", "type": "quantitative"}, "y2": {"field": "upper"}}},
     {"mark": {"type": "tick", "clip": true, "color": "#808080", "thickness": 1, "size": 5, "orient": "horizontal"}, "encoding": {"y": {"field": "upper", "type": "quantitative"}}},
     {"transform": [{"filter": "datum.sig != ''"}], "mark": {"type": "text", "dy": -1, "baseline": "bottom", "fontSize": 8, "fontWeight": "bold", "color": "#444", "font": "Liberation Sans"}, "encoding": {"y": {"field": "upper", "type": "quantitative"}, "text": {"field": "sig"}}}
    ]},
  {"title": "BnXTH61", "transform": [{"filter": "datum.gene == 'BnXTH61'"}], "spacing": 8, "bounds": "flush", "align": "none", "vconcat": [
   {"width": 186, "height": 68,
    "encoding": {"x": {"field": "label", "type": "nominal", "title": null, "scale": {"domain": ["AlCl₃ 0h","AlCl₃ 6h","AlCl₃ 12h","AlCl₃ 24h"," ","Na₂CO₃ 0h","Na₂CO₃ 6h","Na₂CO₃ 12h","Na₂CO₃ 24h","  ","NaCl 0h","NaCl 6h","NaCl 12h","NaCl 24h","   ","PEG 0h","PEG 6h","PEG 12h","PEG 24h"], "paddingInner": 0.2, "paddingOuter": 0.4}, "axis": null}},
    "layer": [
     {"mark": {"type": "bar", "clip": true}, "encoding": {"y": {"field": "value", "type": "quantitative", "scale": {"domain": [7, 20], "nice": false, "zero": false}, "axis": {"values": [10, 15, 20], "title": null, "labelOverlap": false}}, "y2": {"datum": 0}, "color": {"field": "time", "type": "nominal", "scale": {"domain": ["0h","6h","12h","24h"], "range": ["#1e781e","#f7a54b","#5c5cf0","#f25ae6"]}, "legend": null}}},
     {"mark": {"type": "rule", "clip": true, "color": "#808080"}, "encoding": {"y": {"field": "value", "type": "quantitative"}, "y2": {"field": "upper"}}},
     {"mark": {"type": "tick", "clip": true, "color": "#808080", "thickness": 1, "size": 5, "orient": "horizontal"}, "encoding": {"y": {"field": "upper", "type": "quantitative"}}},
     {"transform": [{"filter": "datum.sig != '' && datum.upper >= 7"}], "mark": {"type": "text", "dy": -1, "baseline": "bottom", "fontSize": 8, "fontWeight": "bold", "color": "#444", "font": "Liberation Sans"}, "encoding": {"y": {"field": "upper", "type": "quantitative"}, "text": {"field": "sig"}}}
    ]},
   {"width": 186, "height": 42,
    "encoding": {"x": {"field": "label", "type": "nominal", "title": null, "scale": {"domain": ["AlCl₃ 0h","AlCl₃ 6h","AlCl₃ 12h","AlCl₃ 24h"," ","Na₂CO₃ 0h","Na₂CO₃ 6h","Na₂CO₃ 12h","Na₂CO₃ 24h","  ","NaCl 0h","NaCl 6h","NaCl 12h","NaCl 24h","   ","PEG 0h","PEG 6h","PEG 12h","PEG 24h"], "paddingInner": 0.2, "paddingOuter": 0.4}}},
    "layer": [
     {"mark": {"type": "bar", "clip": true}, "encoding": {"y": {"field": "value", "type": "quantitative", "scale": {"domain": [0, 6], "nice": false, "zero": false}, "axis": {"values": [0, 2, 4, 6], "title": "Relative expression level", "titleY": -17, "labelOverlap": false}}, "y2": {"datum": 0}, "color": {"field": "time", "type": "nominal", "scale": {"domain": ["0h","6h","12h","24h"], "range": ["#1e781e","#f7a54b","#5c5cf0","#f25ae6"]}, "legend": null}}},
     {"mark": {"type": "rule", "clip": true, "color": "#808080"}, "encoding": {"y": {"field": "value", "type": "quantitative"}, "y2": {"field": "upper"}}},
     {"mark": {"type": "tick", "clip": true, "color": "#808080", "thickness": 1, "size": 5, "orient": "horizontal"}, "encoding": {"y": {"field": "upper", "type": "quantitative"}}},
     {"transform": [{"filter": "datum.sig != '' && datum.upper <= 6"}], "mark": {"type": "text", "dy": -1, "baseline": "bottom", "fontSize": 8, "fontWeight": "bold", "color": "#444", "font": "Liberation Sans"}, "encoding": {"y": {"field": "upper", "type": "quantitative"}, "text": {"field": "sig"}}},
     {"mark": {"type": "text", "text": "/ /", "dx": -7.6, "dy": -4, "fontSize": 8, "color": "#000", "baseline": "middle", "align": "center", "font": "Liberation Sans"}, "encoding": {"x": {"datum": "AlCl₃ 0h"}, "y": {"datum": 6}}}
    ]}
  ]}
 ]}
]
}
